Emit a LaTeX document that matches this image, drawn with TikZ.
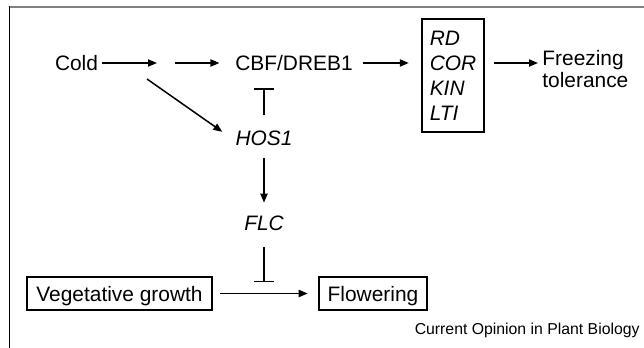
\documentclass[tikz,border=0pt]{standalone}
\usepackage{fontspec}
\setmainfont{Liberation Sans}
\usetikzlibrary{arrows.meta}
\tikzset{
  pw/label/.style={inner sep=2pt, font=\fontsize{10.45}{11}\selectfont, text height=7.5pt, text depth=0pt},
  pw/gene/.style={pw/label, font=\fontsize{10.45}{11}\selectfont\itshape},
  pw/box/.style={pw/label, draw, line width=1pt, inner xsep=4.5pt, minimum height=16.5pt},
  pw/genebox/.style={draw, line width=1pt, align=left, inner xsep=4pt, minimum width=31pt, minimum height=56.5pt, font=\fontsize{10.45}{12.5}\selectfont\itshape},
  pw/outcome/.style={inner sep=2pt, align=left, font=\fontsize{10.45}{11}\selectfont},
  pw/act/.style={line width=0.75pt, -{Triangle[length=4.5pt,width=3.6pt]}},
  pw/inh/.style={line width=0.75pt, -{Bar[width=10pt]}},
  pw/credit/.style={inner sep=2pt, font=\fontsize{7.9}{9}\selectfont}
}
\begin{document}
\begin{tikzpicture}[x=0.5pt, y=-0.5pt]
  \useasboundingbox (0,0) rectangle (644,348);
  % frame
  \draw[gray, line width=1pt] (9,6.5) -- (644,6.5);
  \draw[line width=0.8pt] (9.5,6) -- (9.5,348);

  % cold signalling
  \node[pw/label] (cold) at (76.5,63) {Cold};
  \coordinate (j1) at (157,63);
  \coordinate (j2) at (175,63);
  \coordinate (j3) at (147,79);
  \node[pw/label] (cbf) at (294,63) {CBF/DREB1};
  \node[pw/genebox] (genes) at (453,75.5) {RD\\COR\\KIN\\LTI};
  \node[pw/outcome, anchor=west] (frz) at (538,69) {Freezing\\tolerance};
  \node[pw/gene] (hos1) at (264,138) {HOS1};
  \node[pw/gene] (flc) at (264,223) {FLC};

  % development
  \node[pw/box] (veg) at (119.5,293.5) {Vegetative growth};
  \node[pw/box] (flow) at (373,293.5) {Flowering};
  \node[pw/credit, anchor=east] (credit) at (644,330) {Current Opinion in Plant Biology};

  \draw[pw/act] (cold) -- (j1);
  \draw[pw/act, shorten >=5.75pt] (j2) -- (cbf);
  \draw[pw/act, shorten <=2.75pt, shorten >=6pt] (cbf) -- (genes.west |- cbf);
  \draw[pw/act, shorten <=4.5pt] (genes.east |- cbf) -- (frz.west |- cbf);
  \draw[pw/act, shorten >=5.4pt] (j3) -- (hos1.west);
  \draw[pw/inh, shorten <=5.75pt, shorten >=6.75pt] (hos1) -- (hos1 |- cbf.south);
  \draw[pw/act, shorten <=4.25pt, shorten >=4.25pt] (hos1) -- (hos1 |- flc.north);

  % FLC blocks the transition
  \draw[pw/inh, shorten <=6.25pt, shorten >=5.75pt] (flc) -- (flc |- veg.east);
  \draw[pw/act, shorten <=3.5pt, shorten >=5pt] (veg) -- (flow);
\end{tikzpicture}
\end{document}
